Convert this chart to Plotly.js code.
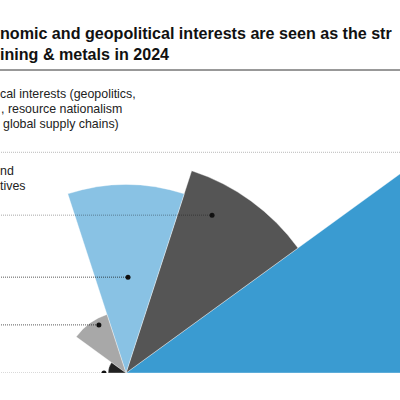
<!DOCTYPE html>
<html>
<head>
<meta charset="utf-8">
<script src="https://cdn.plot.ly/plotly-3.0.1.min.js"></script>
<style>
  html, body { margin: 0; padding: 0; width: 400px; height: 400px; overflow: hidden; background: #fff; }
  #chart { position: absolute; top: 0; }
</style>
</head>
<body>
<div id="chart"></div>
<script>
// ---- Data: slices run counterclockwise from the right edge ----
const sliceTheta  = [18, 54, 90, 126, 162];
const sliceWidth  = [36, 36, 36, 36, 36];
const sliceValues = [96, 57, 50.5, 16.5, 4.8];
const sliceColors = ['#3a9bd1', '#555555', '#89c2e4', '#a8a8a8', '#222222'];

// label anchor points (dots) for each slice
const anchorR     = [105, 48.2, 25.7, 14.8, 5.9];
const anchorTheta = [34.3, 61.4, 88.8, 119.4, 180];
const leaderColor = ['rgba(0,0,0,0.28)', 'rgba(0,0,0,0.35)', 'rgba(0,0,0,0.65)', 'rgba(0,0,0,0.65)', 'rgba(0,0,0,0.3)'];

const titleLines = ['nomic and geopolitical interests are seen as the str', 'ining & metals in 2024'];
const labelLines = [
  ['cal interests (geopolitics,', ', resource nationalism', 'global supply chains)'],
  ['nd', 'tives'],
];

// ---- Geometry: the view is a crop of a bigger half-circle chart ----
const R_MAX = 100;
const R_PX = 373;          // radius of the polar area in px
const CENTER_X = 126;      // where the centre sits in the 400px view
const W = 2 * R_PX, H = R_PX;
const OFF_X = CENTER_X - R_PX;

const el = document.getElementById('chart');
el.style.left = OFF_X + 'px';
el.style.width = W + 'px';
el.style.height = H + 'px';

const px = vx => (vx - OFF_X) / W;
const py = vy => 1 - vy / H;
const toView = (r, th) => {
  const a = th * Math.PI / 180, s = R_PX / R_MAX;
  return [CENTER_X + r * s * Math.cos(a), H - r * s * Math.sin(a)];
};

const shapes = [
  { type: 'line', xref: 'paper', yref: 'paper', x0: px(-2), x1: px(402), y0: py(70), y1: py(70),
    line: { color: '#333', width: 1 } },
];
anchorR.forEach((r, i) => {
  const [vx, vy] = toView(r, anchorTheta[i]);
  shapes.push({ type: 'line', xref: 'paper', yref: 'paper', x0: px(-5), x1: px(vx), y0: py(vy), y1: py(vy),
    line: { color: leaderColor[i], width: 1, dash: '1px,1px' } });
});

const annotations = [];
const addText = (text, vx, vy, size, bold) => annotations.push({
  xref: 'paper', yref: 'paper', x: px(vx), y: py(vy), xanchor: 'left', yanchor: 'middle', align: 'left',
  showarrow: false, borderpad: 0, text: bold ? '<b>' + text + '</b>' : text,
  font: { family: 'Liberation Sans, Arial, sans-serif', size: size, color: bold ? '#111' : '#222' },
});
addText(titleLines.join('<br>'), -1, 43.5, 16.1, true);
addText(labelLines[0][0], -1, 93.5, 12.4);
addText(labelLines[0][1], 0, 108.5, 12.4);
addText(labelLines[0][2], 2, 123.5, 12.4);
addText(labelLines[1][0], -1, 170.5, 12.4);
addText(labelLines[1][1], -1, 185.5, 12.4);

Plotly.newPlot(el, [{
  type: 'barpolar',
  r: sliceValues,
  theta: sliceTheta,
  width: sliceWidth,
  marker: { color: sliceColors, line: { color: 'rgba(255,255,255,0.6)', width: 0.6 } },
  hoverinfo: 'skip',
}, {
  type: 'scatterpolar',
  mode: 'markers',
  r: anchorR,
  theta: anchorTheta,
  cliponaxis: false,
  marker: { color: '#111', size: 5 },
  hoverinfo: 'skip',
}], {
  width: W,
  height: H,
  margin: { l: 0, r: 0, t: 0, b: 0 },
  paper_bgcolor: 'rgba(0,0,0,0)',
  showlegend: false,
  polar: {
    domain: { x: [0, 1], y: [0, 1] },
    sector: [0, 180],
    bgcolor: 'rgba(0,0,0,0)',
    radialaxis: { range: [0, R_MAX], visible: false },
    angularaxis: { visible: false, rotation: 0, direction: 'counterclockwise' },
  },
  shapes,
  annotations,
}, { displayModeBar: false, staticPlot: true });
</script>
</body>
</html>
